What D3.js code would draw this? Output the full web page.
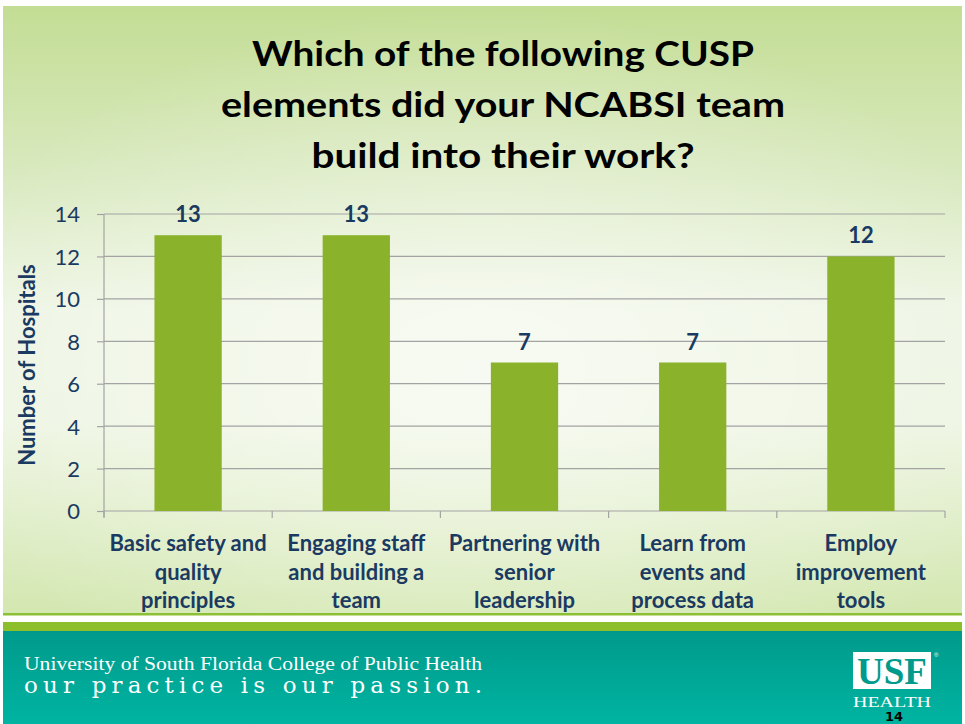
<!DOCTYPE html>
<html>
<head>
<meta charset="utf-8">
<script src="https://cdn.jsdelivr.net/npm/d3@7"></script>
<style>
html,body{margin:0;padding:0;background:#fff;}
svg{display:block;}
</style>
</head>
<body>
<svg id="chart" width="965" height="724"></svg>
<script>
const categories = [
  ["Basic safety and","quality","principles"],
  ["Engaging staff","and building a","team"],
  ["Partnering with","senior","leadership"],
  ["Learn from","events and","process data"],
  ["Employ","improvement","tools"]
];
const values = [13, 13, 7, 7, 12];
const yTicks = [0, 2, 4, 6, 8, 10, 12, 14];
const titleLines = ["Which of the following CUSP","elements did your NCABSI team","build into their work?"];
const yLabel = "Number of Hospitals";
const footerLine1 = "University of South Florida College of Public Health";
const footerLine2 = "our practice is our passion.";
const slideNumber = "14";

const navy = "#1a3a62";
const svg = d3.select("#chart");
const defs = svg.append("defs");

const bg = defs.append("linearGradient").attr("id","bg").attr("x1",0).attr("y1",0).attr("x2",0).attr("y2",1);
[[0,"#c3dd94"],[0.28,"#d9e9bf"],[0.5,"#eef5e4"],[0.68,"#eef5e3"],[1,"#d3e7b0"]].forEach(s=>bg.append("stop").attr("offset",s[0]).attr("stop-color",s[1]));
const rad = defs.append("radialGradient").attr("id","rad").attr("cx",0.5).attr("cy",0.6).attr("r",0.6);
rad.append("stop").attr("offset",0).attr("stop-color","#ffffff").attr("stop-opacity",0.55);
rad.append("stop").attr("offset",1).attr("stop-color","#ffffff").attr("stop-opacity",0);
const teal = defs.append("linearGradient").attr("id","teal").attr("x1",0).attr("y1",0).attr("x2",0).attr("y2",1);
teal.append("stop").attr("offset",0).attr("stop-color","#009a8b");
teal.append("stop").attr("offset",1).attr("stop-color","#00b4a2");

// slide background
svg.append("rect").attr("x",3).attr("y",6).attr("width",959).attr("height",608).attr("fill","url(#bg)");
svg.append("rect").attr("x",3).attr("y",6).attr("width",959).attr("height",608).attr("fill","url(#rad)");
svg.append("rect").attr("x",3).attr("y",613).attr("width",959).attr("height",2.5).attr("fill","#8dbf34");
svg.append("rect").attr("x",3).attr("y",622).attr("width",959).attr("height",9).attr("fill","#8cbf2b");
svg.append("rect").attr("x",3).attr("y",631).attr("width",959).attr("height",93).attr("fill","url(#teal)");

// title
const titleWidths = [502, 564, 383];
svg.append("g").selectAll("text").data(titleLines).join("text")
  .attr("x",503).attr("y",(d,i)=>66+i*51)
  .attr("text-anchor","middle")
  .attr("font-family","Lato").attr("font-weight","bold").attr("font-size",35)
  .attr("textLength",(d,i)=>titleWidths[i]).attr("lengthAdjust","spacingAndGlyphs")
  .attr("fill","#000").text(d=>d);

// scales
const x = d3.scaleBand().domain(d3.range(categories.length)).range([104,945]).paddingInner(0.6).paddingOuter(0.3);
const y = d3.scaleLinear().domain([0,14]).range([511,214]);

// gridlines
svg.append("g").selectAll("line").data(yTicks.filter(t=>t>0)).join("line")
  .attr("x1",104).attr("x2",945).attr("y1",d=>y(d)).attr("y2",d=>y(d))
  .attr("stroke","#a3a3a3").attr("stroke-width",1.2);

// y axis
const yAxis = d3.axisLeft(y).tickValues(yTicks).tickSize(7).tickPadding(17);
const yg = svg.append("g").attr("transform","translate(104,0)").call(yAxis);
yg.select(".domain").attr("stroke","#a3a3a3").attr("stroke-width",1.2).attr("d","M0,214V517");
yg.selectAll(".tick line").attr("stroke","#a3a3a3").attr("stroke-width",1.2);
yg.selectAll(".tick text").attr("font-family","Lato").attr("font-size",22).attr("fill",navy).attr("dy","0.36em");

// x axis line and ticks
const bounds = d3.range(categories.length+1).map(i=>x.range()[0] + i*((x.range()[1]-x.range()[0])/categories.length));
svg.append("line").attr("x1",104).attr("x2",945).attr("y1",y(0)).attr("y2",y(0)).attr("stroke","#a3a3a3").attr("stroke-width",1.2);
svg.append("g").selectAll("line").data(bounds).join("line")
  .attr("x1",d=>d).attr("x2",d=>d).attr("y1",y(0)).attr("y2",y(0)+7)
  .attr("stroke","#a3a3a3").attr("stroke-width",1.2);

// bars
svg.append("g").selectAll("rect").data(values).join("rect")
  .attr("x",(d,i)=>x(i)).attr("width",x.bandwidth())
  .attr("y",d=>y(d)).attr("height",d=>y(0)-y(d))
  .attr("fill","#8bb22b");

// value labels
svg.append("g").selectAll("text").data(values).join("text")
  .attr("x",(d,i)=>x(i)+x.bandwidth()/2).attr("y",d=>y(d)-13)
  .attr("text-anchor","middle").attr("font-family","Lato").attr("font-weight","bold").attr("font-size",22)
  .attr("fill",navy).text(d=>d);

// category labels
const cg = svg.append("g").selectAll("text").data(categories).join("text")
  .attr("text-anchor","middle").attr("font-family","Lato").attr("font-weight","bold").attr("font-size",22)
  .attr("fill",navy);
cg.each(function(lines,i){
  d3.select(this).selectAll("tspan").data(lines).join("tspan")
    .attr("x",x(i)+x.bandwidth()/2).attr("y",(d,j)=>551+j*28.5).text(d=>d);
});

// y label
svg.append("text").attr("transform","translate(35,365) rotate(-90)")
  .attr("text-anchor","middle").attr("font-family","Lato").attr("font-weight","bold").attr("font-size",22)
  .attr("fill",navy).text(yLabel);

// footer
svg.append("text").attr("x",24).attr("y",670).attr("font-family","Liberation Serif").attr("font-size",19)
  .attr("fill","#fff").attr("textLength",458).attr("lengthAdjust","spacingAndGlyphs").text(footerLine1);
svg.append("text").attr("x",24).attr("y",693).attr("font-family","DejaVu Serif").attr("font-size",23)
  .attr("fill","#fff").attr("textLength",458).attr("lengthAdjust","spacing").text(footerLine2);

// logo
svg.append("rect").attr("x",853).attr("y",652).attr("width",78).attr("height",37).attr("fill","#fff");
svg.append("text").attr("x",892).attr("y",684).attr("text-anchor","middle").attr("font-family","Liberation Serif").attr("font-weight","bold")
  .attr("font-size",37).attr("fill","#009b8c").attr("textLength",70).attr("lengthAdjust","spacingAndGlyphs").text("USF");
svg.append("text").attr("x",934).attr("y",657).attr("font-family","Liberation Sans").attr("font-size",6).attr("fill","#fff").text("®");
svg.append("text").attr("x",892).attr("y",707).attr("text-anchor","middle").attr("font-family","Liberation Serif")
  .attr("font-size",15).attr("fill","#fff").attr("textLength",78).attr("lengthAdjust","spacingAndGlyphs").text("HEALTH");
svg.append("text").attr("x",894).attr("y",721).attr("text-anchor","middle").attr("font-family","DejaVu Sans").attr("font-weight","bold")
  .attr("font-size",13).attr("fill","#000").text(slideNumber);
</script>
</body>
</html>
